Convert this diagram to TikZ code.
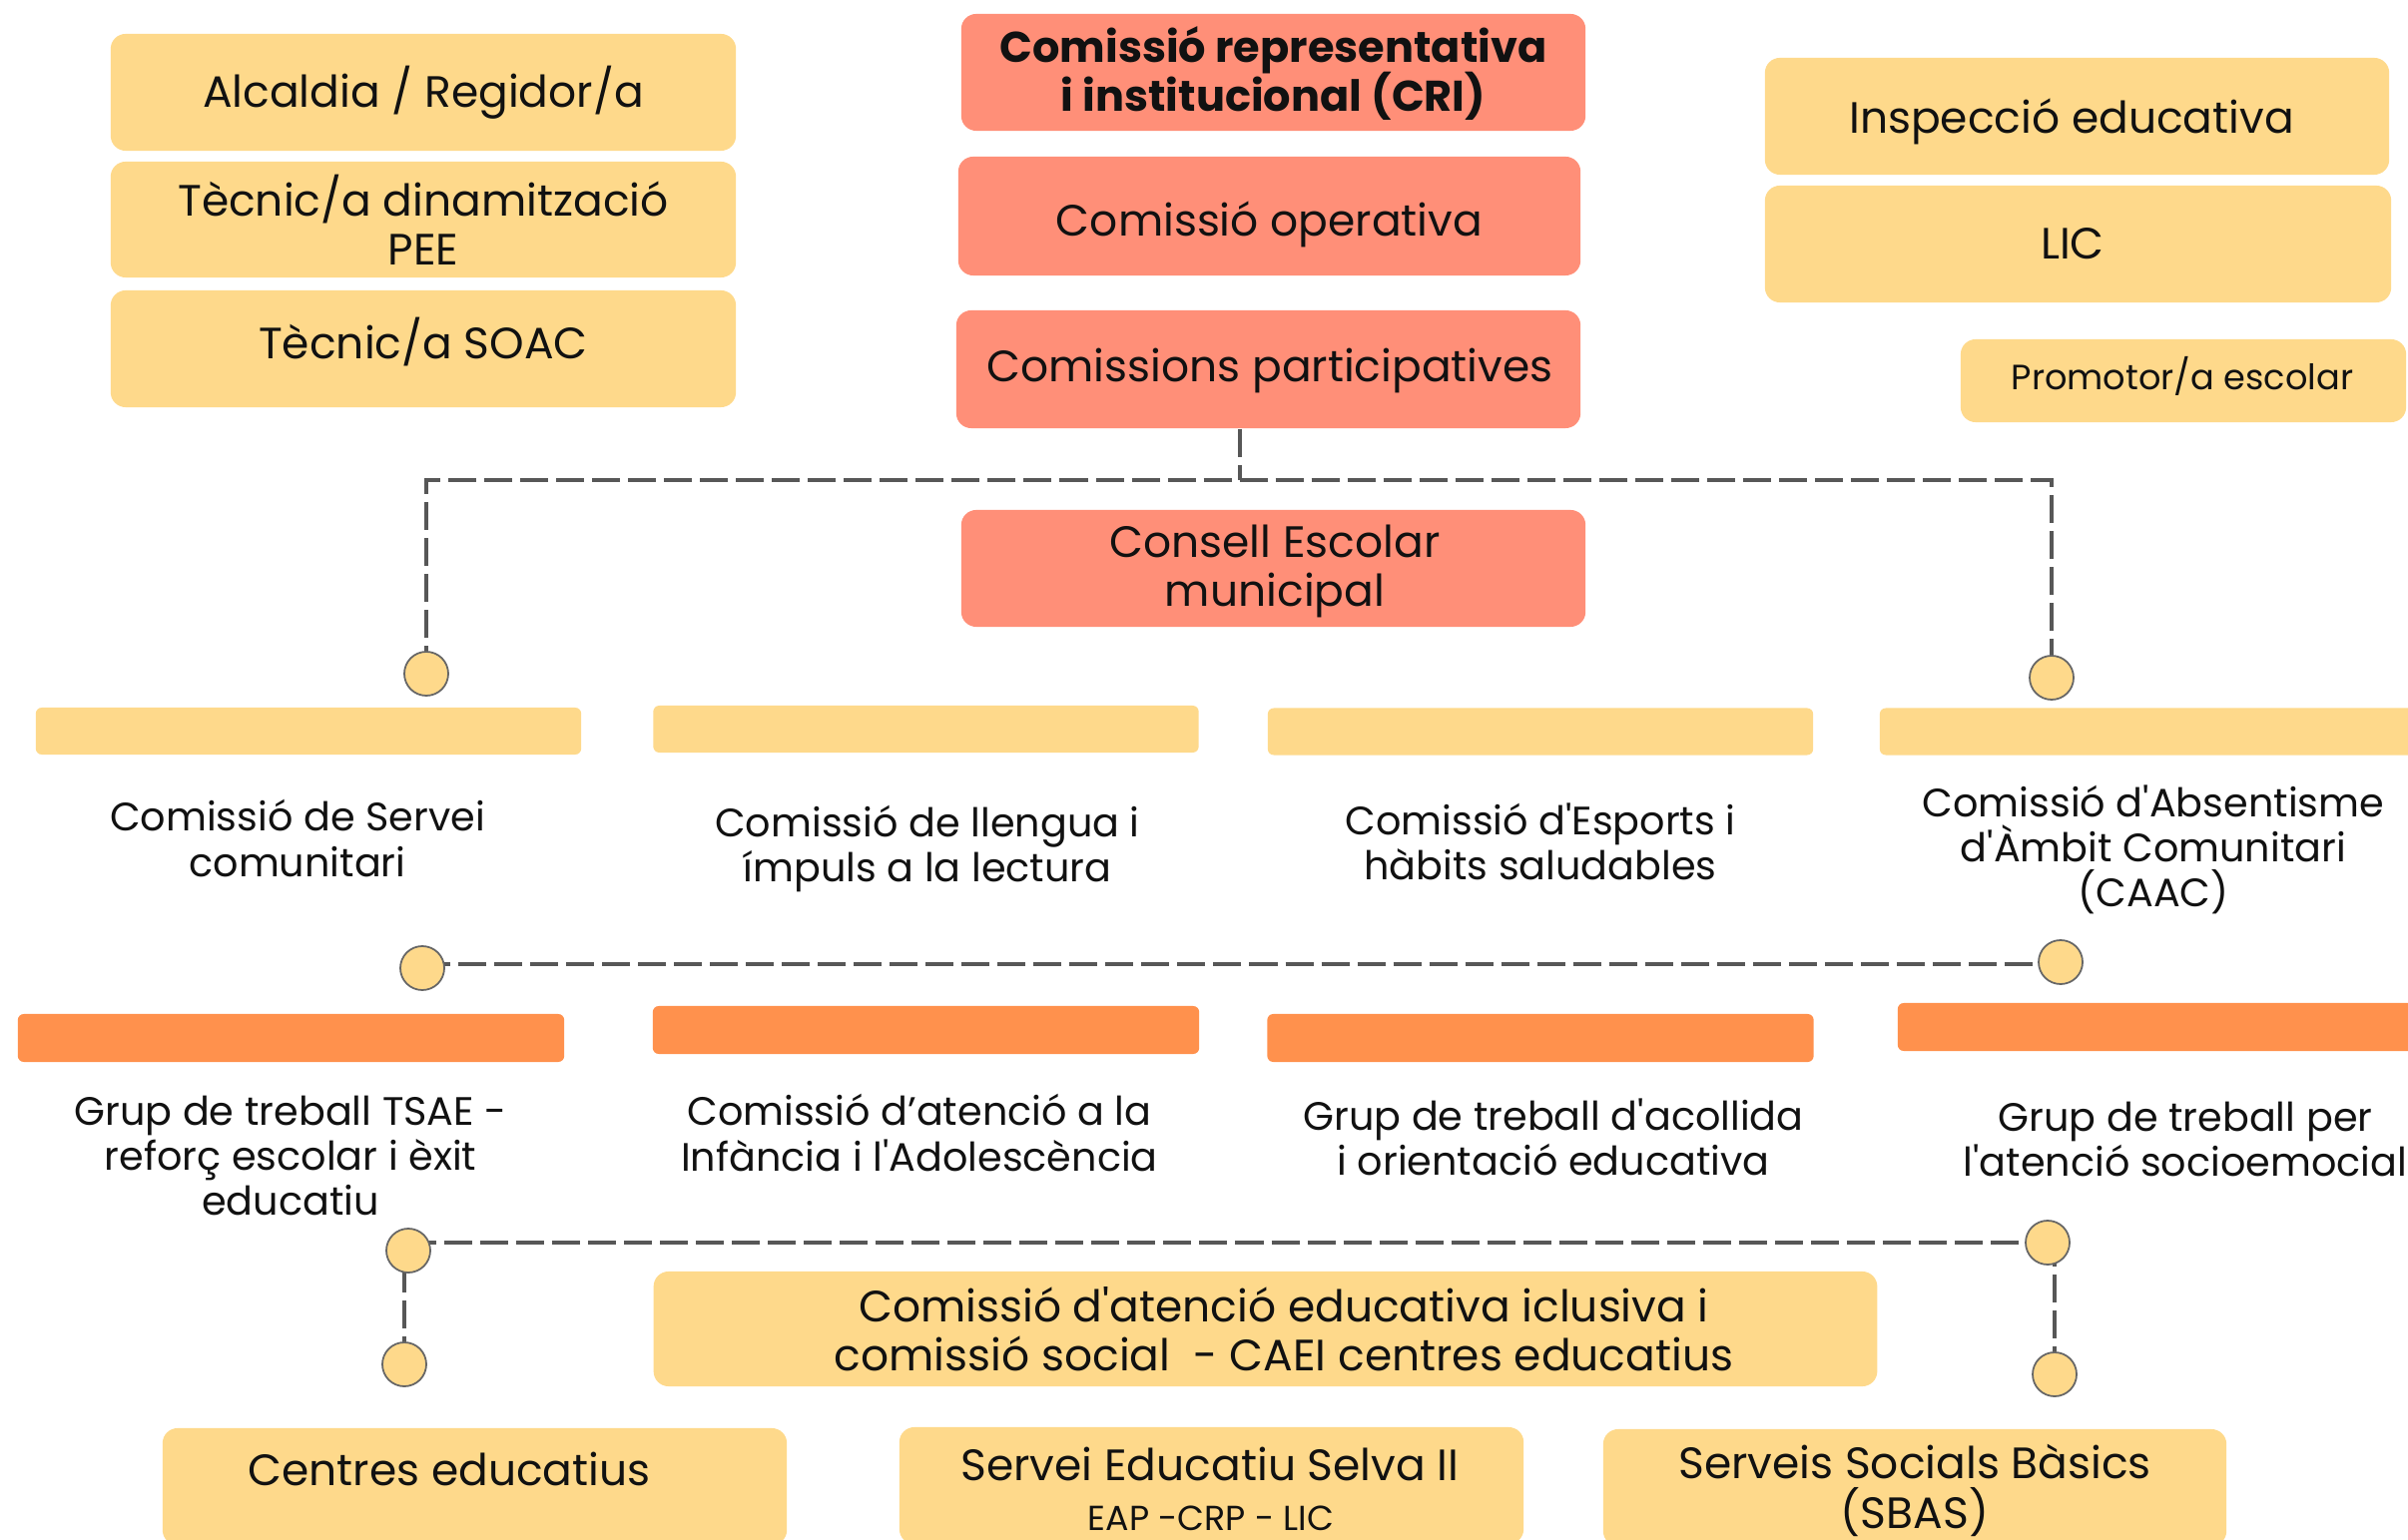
\documentclass[tikz,border=0pt]{standalone}
\usepackage{fontspec}
\setmainfont{Poppins}
\usetikzlibrary{backgrounds}
\definecolor{ylw}{HTML}{FED98B}
\definecolor{slm}{HTML}{FF8F78}
\definecolor{org}{HTML}{FF914D}
\definecolor{lne}{HTML}{575757}
\definecolor{dotedge}{HTML}{666666}
\definecolor{txt}{HTML}{111111}
\newcommand\FBig{\fontsize{12.5}{14}\selectfont\lineskiplimit=-100pt\relax}
\newcommand\FBold{\fontsize{12.25}{14}\selectfont\bfseries\lineskiplimit=-100pt\relax}
\newcommand\FRow{\fontsize{11.3}{12.8}\selectfont\lineskiplimit=-100pt\relax}
\newcommand\FProm{\fontsize{10}{12}\selectfont}
\newcommand\FEap{\fontsize{9.9}{11}\selectfont}
\newcommand\sq{\XeTeXglyph\XeTeXcharglyph"27 }
\begin{document}
\begin{tikzpicture}[x=0.01cm,y=-0.01cm,
  ybox/.style={fill=ylw, rounded corners=0.15cm, inner sep=0pt},
  rbox/.style={fill=slm, rounded corners=0.15cm, inner sep=0pt},
  ybar/.style={fill=ylw, rounded corners=0.06cm, inner sep=0pt, minimum width=5.46cm, minimum height=0.47cm},
  obar/.style={fill=org, rounded corners=0.06cm, inner sep=0pt, minimum width=5.47cm, minimum height=0.48cm},
  lbl/.style={align=center, text=txt, inner sep=0pt, font=\FRow},
  btxt/.style={align=center, text=txt, inner sep=0pt, font=\FBig},
  one/.style={text=txt, inner sep=0pt, font=\FBig, text height=0.75em, text depth=0.25em},
  dot/.style={circle, fill=ylw, draw=dotedge, line width=0.5pt, minimum size=0.44cm, inner sep=0pt},
  conn/.style={draw=lne, line width=0.04cm, dash pattern=on 0.28cm off 0.08cm}
]
\useasboundingbox (0,0) rectangle (2412,1543);

% left column
\node[ybox, minimum width=6.26cm, minimum height=1.17cm] (alc) at (424,92.5) {};
\node[one] (alct) at (424,98.3) {Alcaldia / Regidor/a};
\node[ybox, minimum width=6.26cm, minimum height=1.16cm] (tec) at (424,220) {};
\node[btxt] (tect) at (424,220) {Tècnic/a dinamització\\PEE};
\node[ybox, minimum width=6.26cm, minimum height=1.17cm] (soac) at (424,349.5) {};
\node[one] (soact) at (424,350.6) {Tècnic/a SOAC};

% centre column
\node[rbox, minimum width=6.25cm, minimum height=1.17cm] (cri) at (1275.5,72.5) {};
\node[btxt, font=\FBold] (crit) at (1275.5,73.5) {Comissió representativa\\i institucional (CRI)};
\node[rbox, minimum width=6.23cm, minimum height=1.19cm] (cop) at (1271.5,216.5) {};
\node[one] (copt) at (1271.5,227.5) {Comissió operativa};
\node[rbox, minimum width=6.25cm, minimum height=1.18cm] (cpa) at (1270.5,370) {};
\node[one] (cpat) at (1272,373.7) {Comissions participatives};
\node[rbox, minimum width=6.25cm, minimum height=1.17cm] (cem) at (1275.5,569.5) {};
\node[btxt] (cemt) at (1277,572.5) {Consell Escolar\\municipal};

% right column
\node[ybox, minimum width=6.25cm, minimum height=1.17cm] (insp) at (2080.5,116.5) {};
\node[one] (inspt) at (2075,124.5) {Inspecció educativa};
\node[ybox, minimum width=6.27cm, minimum height=1.17cm] (lic) at (2081.5,244.5) {};
\node[one] (lict) at (2076,250.6) {LIC};
\node[ybox, minimum width=4.46cm, minimum height=0.83cm] (prom) at (2187,381.5) {};
\node[one, font=\FProm] (promt) at (2186,381.5) {Promotor/a escolar};

% circles
\node[dot] (c1) at (427,675) {};
\node[dot] (c2) at (2055,679) {};
\node[dot] (c3) at (423,970) {};
\node[dot] (c4) at (2064,964) {};
\node[dot] (c5) at (409,1253) {};
\node[dot] (c6) at (2051,1245) {};
\node[dot] (c7) at (405,1367) {};
\node[dot] (c8) at (2058,1377) {};

% connectors
\coordinate (j0) at (1242,481);
\coordinate (h2) at (1242,966);
\coordinate (h3) at (1242,1245);
\begin{scope}[on background layer]
\draw[conn] (cpa.south -| j0) -- (j0);
\draw[conn] (c1.center) -- (c1.center |- j0) -- (c2.center |- j0) -- (c2.center);
\draw[conn] (c3.center |- h2) -- (c4.center |- h2);
\draw[conn] (c5.center |- h3) -- (c6.center |- h3);
\draw[conn] (c7.center) -- (c7.center |- c5.center);
\draw[conn] (c8.center) -- (c8.center |- c6.center);
\end{scope}

% yellow bars and labels
\node[ybar] (b1) at (309,732.5) {};
\node[ybar] (b2) at (927.5,730.5) {};
\node[ybar] (b3) at (1543,733) {};
\node[ybar] (b4) at (2156,733) {};
\node[lbl] (t1) at (298,840) {Comissió de Servei\\comunitari};
\node[lbl] (t2) at (929,850.5) {Comissió de llengua i\\ímpuls a la lectura};
\node[lbl] (t3) at (1543,843.5) {Comissió d\sq Esports i\\hàbits saludables};
\node[lbl] (t4) at (2157,851) {Comissió d\sq Absentisme\\d\sq Àmbit Comunitari\\(CAAC)};

% orange bars and labels
\node[obar] (o1) at (291.5,1040) {};
\node[obar] (o2) at (927.5,1032) {};
\node[obar] (o3) at (1543,1040) {};
\node[obar] (o4) at (2174.5,1029) {};
\node[lbl] (u1) at (291,1158) {Grup de treball TSAE -\\reforç escolar i èxit\\educatiu};
\node[lbl] (u2) at (921,1135) {Comissió d’atenció a la\\Infància i l\sq Adolescència};
\node[lbl] (u3) at (1556,1139) {Grup de treball d\sq acollida\\i orientació educativa};
\node[lbl] (u4) at (2189,1141) {Grup de treball per\\l\sq atenció socioemocial};

% CAEI
\node[ybox, minimum width=12.25cm, minimum height=1.15cm] (caei) at (1267.5,1331.5) {};
\node[btxt] (caeit) at (1286,1332) {Comissió d\sq atenció educativa iclusiva i\\comissió social \ - CAEI centres educatius};

% bottom row
\node[ybox, minimum width=6.25cm, minimum height=1.17cm] (cent) at (475.5,1489.5) {};
\node[one] (centt) at (450,1479.7) {Centres educatius};
\node[ybox, minimum width=6.25cm, minimum height=1.17cm] (serv) at (1213.5,1488.5) {};
\node[one] (servt) at (1212,1475) {Servei Educatiu Selva II};
\node[one, font=\FEap] (servs) at (1213,1524.5) {EAP -CRP - LIC};
\node[ybox, minimum width=6.24cm, minimum height=1.17cm] (sbas) at (1918,1490.5) {};
\node[btxt] (sbast) at (1918,1493.5) {Serveis Socials Bàsics\\(SBAS)};
\end{tikzpicture}
\end{document}
